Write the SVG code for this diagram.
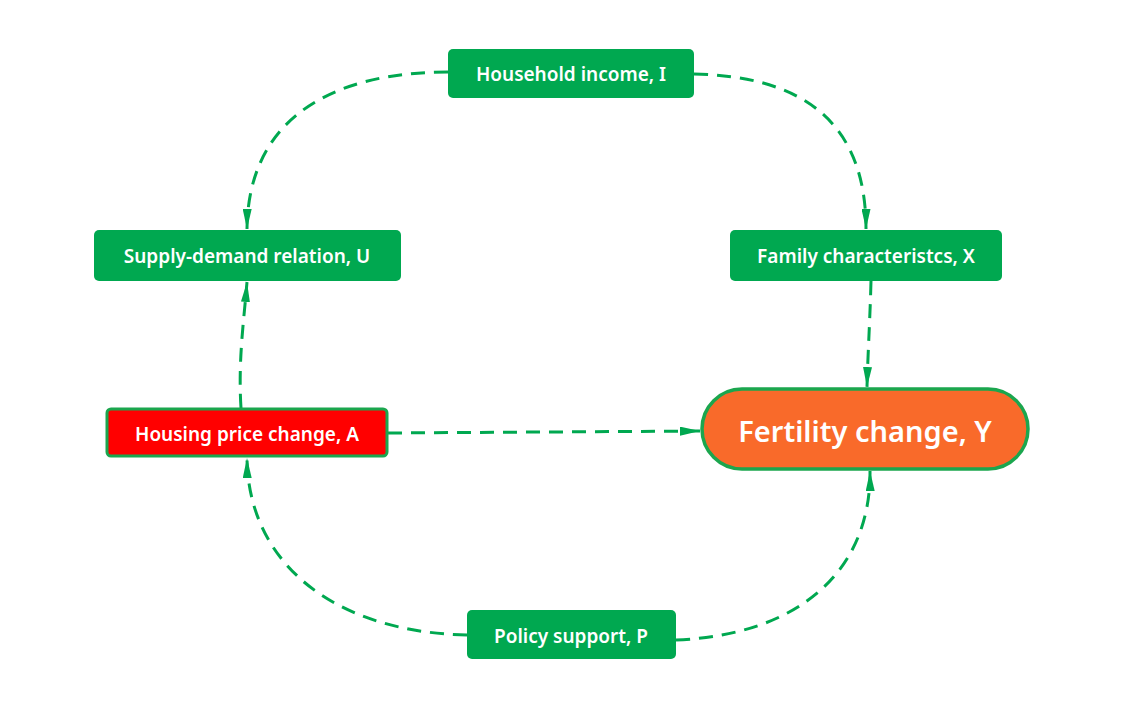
<svg xmlns="http://www.w3.org/2000/svg" width="1138" height="710" viewBox="0 0 1138 710">
<style>
.box{fill:#00A850;}
.lbl{font-family:"Noto Sans","Open Sans",sans-serif;font-weight:600;fill:#fff;text-anchor:middle;dominant-baseline:central;}
.s{font-size:19px;}
.big{font-size:29px;}
.edge{fill:none;stroke:#00A850;stroke-width:3;stroke-dasharray:14 9;marker-end:url(#ah);}
</style>
<defs>
<marker id="ah" viewBox="0 0 20 9" refX="20" refY="4.5" markerWidth="20" markerHeight="9" markerUnits="userSpaceOnUse" orient="auto">
<path d="M0,0 L20,4.5 L0,9 Z" fill="#00A850"/>
</marker>
</defs>
<rect width="1138" height="710" fill="#fff"/>
<g id="connectors">
<path class="edge" d="M448,72 C330,72 248,120 247,229"/>
<path class="edge" d="M694,74 C800,76 866,120 866,229"/>
<path class="edge" d="M871,281 C870,320 868,350 867,387"/>
<path class="edge" d="M388,433 L700,431"/>
<path class="edge" d="M241,408 C238,360 244,320 247,282"/>
<path class="edge" d="M467,635 C330,632 248,560 247,458"/>
<path class="edge" d="M676,640 C800,635 871,570 870,471"/>
</g>
<g id="node-income">
<rect class="box" x="448" y="49" width="246" height="49" rx="5"/>
<text class="lbl s" x="571" y="74">Household income, I</text>
</g>
<g id="node-supply">
<rect class="box" x="94" y="230" width="307" height="51" rx="5"/>
<text class="lbl s" x="247" y="256">Supply-demand relation, U</text>
</g>
<g id="node-family">
<rect class="box" x="730" y="230" width="272" height="51" rx="5"/>
<text class="lbl s" x="866" y="256">Family characteristcs, X</text>
</g>
<g id="node-housing">
<rect x="107" y="409" width="280" height="47" rx="4" fill="#FF0000" stroke="#1BA64E" stroke-width="3"/>
<text class="lbl s" x="247" y="434">Housing price change, A</text>
</g>
<g id="node-fertility">
<rect x="702" y="389" width="326" height="80" rx="40" fill="#F96A2A" stroke="#1BA64E" stroke-width="3.5"/>
<text class="lbl big" x="865" y="430">Fertility change, Y</text>
</g>
<g id="node-policy">
<rect class="box" x="467" y="610" width="209" height="49" rx="5"/>
<text class="lbl s" x="571" y="636">Policy support, P</text>
</g>
</svg>
